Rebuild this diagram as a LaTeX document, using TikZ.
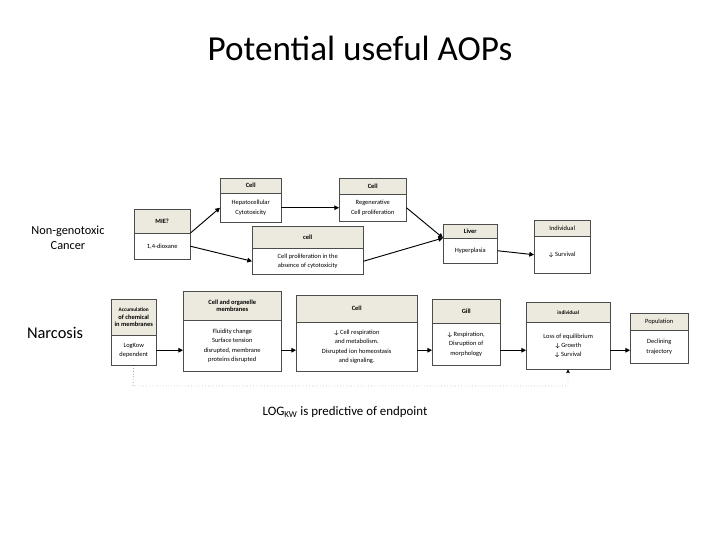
\documentclass[tikz,border=0pt]{standalone}
\usepackage{fontspec}
\setmainfont{Carlito}
\usetikzlibrary{arrows.meta}
\definecolor{headgrey}{RGB}{236,233,222}
\tikzset{
  hd/.style={draw=black!70, fill=headgrey, font=\fontsize{5.5}{6.5}\selectfont\bfseries, align=center, inner sep=0pt, anchor=north west},
  bd/.style={draw=black!70, fill=white, font=\fontsize{5.5}{8}\selectfont, align=center, inner sep=0pt, anchor=north west},
  link/.style={-{Triangle[length=4pt,width=4pt]}, thick}
}
% \aopbox{name}{x}{width}{top}{header height}{body height}{header}{body}
\newcommand{\aopbox}[8]{%
  \node[hd, minimum width=#3*0.03cm, minimum height=#5*0.03cm] (#1h) at (#2,#4) {#7};
  \node[bd, minimum width=#3*0.03cm, minimum height=#6*0.03cm] (#1) at (#2,#4+#5) {#8};}
\newcommand{\dn}{$\boldsymbol{\downarrow}$}
\usepackage{amsmath}
\begin{document}
\begin{tikzpicture}[x=0.03cm,y=-0.03cm]
\useasboundingbox (0,0) rectangle (720,540);
\node (title) at (360,48) {\fontsize{30}{34}\selectfont Potential useful AOPs};
\node[align=center, font=\fontsize{10.5}{12.5}\selectfont] (cancer) at (68,238) {Non-genotoxic\\Cancer};
\node[font=\fontsize{14}{16}\selectfont] (narcosis) at (55,333) {Narcosis};
% cancer pathway
\aopbox{mie}{134}{56}{209}{24}{26}{MIE?}{1,4-dioxane}
\aopbox{hep}{220}{61}{178}{15}{29}{Cell}{Hepatocellular\\Cytotoxicity}
\aopbox{reg}{339}{67}{178}{16}{27}{Cell}{Regenerative\\Cell proliferation}
\aopbox{prol}{252}{111}{226}{22}{26}{cell}{Cell proliferation in the\\absence of cytotoxicity}
\aopbox{liver}{443}{54}{224}{14}{25}{Liver}{Hyperplasia}
\aopbox{indiv}{534}{56}{220}{16}{37}{\mdseries Individual}{\dn{} Survival}
\draw[link] (mie.north east) -- (hep.west);
\draw[link] (mie.east) -- (prol.west);
\draw[link] (hep.east) -- (reg.west);
\draw[link] (reg.east) -- (liver.north west);
\draw[link] (prol.east) -- (liver.north west);
\draw[link] (liver.east) -- (indiv.west);
% narcosis pathway
\aopbox{acc}{111}{45}{299}{36}{30}{\fontsize{4.5}{5}\selectfont Accumulation\\of chemical\\in membranes}{LogKow\\dependent}
\aopbox{memb}{183}{98}{291}{29}{51}{Cell and organelle\\membranes}{Fluidity change\\Surface tension\\disrupted, membrane\\proteins disrupted}
\aopbox{resp}{296}{121}{295}{27}{49}{Cell}{\dn{} Cell respiration\\and metabolism.\\Disrupted ion homeostasis\\and signaling.}
\aopbox{gill}{432}{68}{299}{24}{42}{Gill}{\dn{} Respiration,\\Disruption of\\morphology}
\aopbox{ind}{526}{84}{302}{20}{47}{\fontsize{4.5}{5}\selectfont individual}{Loss of equilibrium\\\dn{} Growth\\\dn{} Survival}
\aopbox{pop}{630}{58}{313}{17}{33}{\mdseries Population}{Declining\\trajectory}
\draw[link] (acc.east) -- (memb.west|-acc.east);
\draw[link] (memb.east|-acc.east) -- (resp.west|-acc.east);
\draw[link] (resp.east|-acc.east) -- (gill.west|-acc.east);
\draw[link] (gill.east|-acc.east) -- (ind.west|-acc.east);
\draw[link] (ind.east|-acc.east) -- (pop.west|-acc.east);
\coordinate (dl) at (133,386);
\coordinate (dr) at (568,386);
\draw[dotted, -{Triangle[length=3pt,width=3pt]}] (acc.south) -- (dl) -- (dr) -- (ind.south-|dr);
\node[font=\fontsize{11}{13}\selectfont] (note) at (345,412) {LOG\textsubscript{KW} is predictive of endpoint};
\end{tikzpicture}
\end{document}
